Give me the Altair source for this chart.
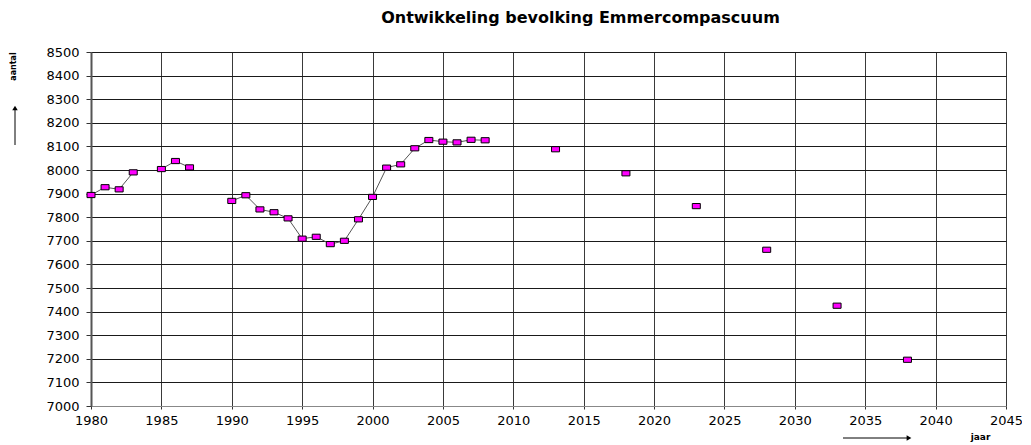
import altair as alt
import pandas as pd

# Historical population (connected by line within each segment)
years_hist = [1980, 1981, 1982, 1983, 1985, 1986, 1987,
              1990, 1991, 1992, 1993, 1994, 1995, 1996, 1997, 1998, 1999,
              2000, 2001, 2002, 2003, 2004, 2005, 2006, 2007, 2008]
pop_hist = [7894, 7927, 7918, 7990, 8004, 8038, 8011,
            7869, 7893, 7833, 7821, 7795, 7709, 7717, 7686, 7700, 7791,
            7886, 8010, 8024, 8092, 8127, 8120, 8117, 8128, 8126]
segment_hist = ["a", "a", "a", "a", "b", "b", "b",
                "c", "c", "c", "c", "c", "c", "c", "c", "c", "c",
                "c", "c", "c", "c", "c", "c", "c", "c", "c"]

# Projection (points only)
years_proj = [2013, 2018, 2023, 2028, 2033, 2038]
pop_proj = [8088, 7986, 7847, 7662, 7425, 7196]

x_ticks = list(range(1980, 2046, 5))
y_ticks = list(range(7000, 8501, 100))

title_text = "Ontwikkeling bevolking Emmercompascuum"
y_title = "aantal"
x_title = "jaar"

hist = pd.DataFrame({"jaar": years_hist, "aantal": pop_hist, "seg": segment_hist})
proj = pd.DataFrame({"jaar": years_proj, "aantal": pop_proj,
                     "seg": [f"p{i}" for i in range(len(years_proj))]})
allpts = pd.concat([hist, proj], ignore_index=True)

FONT = "DejaVu Sans"
rect_shape = "M-1,-0.65L1,-0.65L1,0.65L-1,0.65Z"

xscale = alt.Scale(domain=[1980, 2045], nice=False, zero=False)
yscale = alt.Scale(domain=[7000, 8500], nice=False, zero=False)

xaxis = alt.Axis(values=x_ticks, format="d", grid=True,
                 gridColor="#3a3a3a", gridWidth=1, gridOpacity=1,
                 domain=True, domainColor="#888888", domainWidth=1,
                 ticks=True, tickSize=3, tickColor="#333333",
                 labelFont=FONT, labelFontSize=13, labelColor="#000000",
                 labelPadding=5, labelFlush=False, labelOverlap=False,
                 title=x_title, titleFont=FONT,
                 titleFontSize=9, titleFontWeight="bold", titleColor="#000000",
                 titleX=889, titleY=30, titleAlign="center", titleBaseline="middle")
yaxis = alt.Axis(values=y_ticks, format="d", grid=True,
                 gridColor="#1a1a1a", gridWidth=1, gridOpacity=1,
                 domain=True, domainColor="#555555", domainWidth=2,
                 ticks=True, tickSize=5, tickColor="#333333",
                 labelFont=FONT, labelFontSize=13, labelColor="#000000",
                 labelPadding=7, labelFlush=False, labelOverlap=False,
                 title=y_title, titleFont=FONT,
                 titleFontSize=8, titleFontWeight="bold", titleColor="#000000",
                 titleAngle=270, titleX=-78, titleY=14, titleAlign="center",
                 titleBaseline="middle")

lines = alt.Chart(hist).mark_line(color="#555555", strokeWidth=1).encode(
    x=alt.X("jaar:Q", scale=xscale, axis=xaxis),
    y=alt.Y("aantal:Q", scale=yscale, axis=yaxis),
    detail="seg:N",
)

points = alt.Chart(allpts).mark_point(shape=rect_shape, size=64, filled=True,
                                      fill="#FF00FF", stroke="#000000", strokeWidth=1,
                                      opacity=1).encode(
    x=alt.X("jaar:Q", scale=xscale, axis=xaxis),
    y=alt.Y("aantal:Q", scale=yscale, axis=yaxis),
)

# Decorative arrows next to axis titles
one = pd.DataFrame({"a": [0]})
y_arrow = alt.Chart(one).mark_rule(color="#000000", strokeWidth=1).encode(
    x=alt.value(-76), y=alt.value(93), y2=alt.value(57))
y_head = alt.Chart(one).mark_point(
    shape="triangle-up", size=30, filled=True, color="#000000", opacity=1).encode(
    x=alt.value(-76), y=alt.value(56))
x_arrow = alt.Chart(one).mark_rule(color="#000000", strokeWidth=1).encode(
    x=alt.value(752), x2=alt.value(816), y=alt.value(386))
x_head = alt.Chart(one).mark_point(
    shape="triangle-right", size=30, filled=True, color="#000000", opacity=1).encode(
    x=alt.value(818), y=alt.value(386))

chart = alt.layer(lines, points, y_arrow, y_head, x_arrow, x_head).properties(
    width=915, height=354,
    title=alt.TitleParams(title_text, font=FONT, fontSize=16, fontWeight="bold",
                          color="#000000", anchor="middle", dx=32, offset=20),
    autosize=alt.AutoSizeParams(type="none"),
    padding={"left": 83, "top": 44, "right": 16, "bottom": 38},
).configure_view(stroke="#999999", strokeWidth=1).configure(background="#ffffff")

chart.save("out.html", embed_options={"renderer": "svg", "actions": False})
